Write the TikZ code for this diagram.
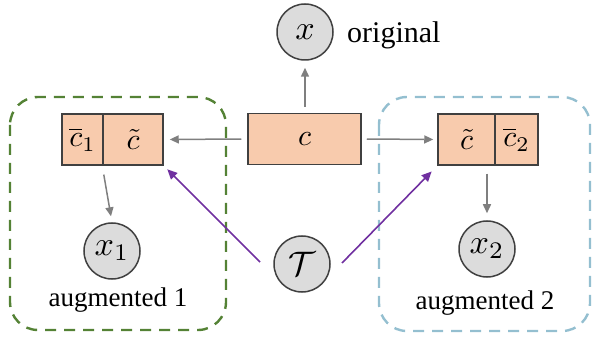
\documentclass[tikz,border=0pt]{standalone}
\usepackage{fontspec}
\setmainfont{Liberation Serif}
\usepackage{graphicx}
\usetikzlibrary{arrows.meta}
\definecolor{peach}{HTML}{F8CBAD}
\definecolor{cfill}{HTML}{DCDCDC}
\definecolor{edge}{HTML}{404040}
\definecolor{garrow}{HTML}{7F7F7F}
\definecolor{grn}{HTML}{548235}
\definecolor{blu}{HTML}{94BFD0}
\definecolor{purp}{HTML}{7030A0}
\newcommand{\boxmath}[1]{\scalebox{3.0}{$#1$}}
\newcommand{\varmath}[1]{\scalebox{3.4}{$#1$}}
\begin{document}
\begin{tikzpicture}[x=1pt,y=-1pt,
  cell/.style={draw=edge,fill=peach,line width=1.5pt,minimum height=51pt,inner sep=0pt},
  var/.style={circle,draw=edge,fill=cfill,line width=1.5pt,minimum size=56pt,inner sep=0pt},
  lbl/.style={font=\fontsize{27}{27}\selectfont,inner sep=0pt},
  garr/.style={draw=garrow,line width=1.5pt,-{Triangle[length=9pt,width=8pt]}},
  parr/.style={draw=purp,line width=1.6pt,-{Triangle[length=10pt,width=9pt]}},
  grp/.style={dashed,line width=2.4pt,rounded corners=28pt,dash pattern=on 11pt off 8pt}]
\useasboundingbox (0,0) rectangle (592,339);
% group boxes
\draw[grp,draw=grn] (10,97) rectangle (226,330);
\draw[grp,draw=blu] (379,97) rectangle (590,331);
% central code
\node[cell,minimum width=113pt] (c) at (304.5,139) {\boxmath{c}};
% left split box
\node[cell,minimum width=41pt] (lbar) at (82.5,139.5) {\boxmath{\overline{c}_1}};
\node[cell,minimum width=60pt] (ltil) at (133,139.5) {\boxmath{\tilde{c}}};
% right split box
\node[cell,minimum width=57pt] (rtil) at (466.5,139.5) {\boxmath{\tilde{c}}};
\node[cell,minimum width=43pt] (rbar) at (516.5,139.5) {\boxmath{\overline{c}_2}};
% variables
\node[var] (x) at (305,32) {\varmath{x}};
\node[lbl,anchor=west,font=\fontsize{30}{30}\selectfont] (orig) at (347,35) {original};
\node[var] (x1) at (112,251) {\varmath{x_1}};
\node[var] (x2) at (487,249) {\varmath{x_2}};
\node[var] (T) at (302,264) {\varmath{\mathcal{T}}};
\node[lbl] (aug1) at (118,300) {augmented 1};
\node[lbl] (aug2) at (485,303) {augmented 2};
% gray arrows
\draw[garr,shorten <=6pt,shorten >=7pt] (c.north -| x) -- (x.south);
\draw[garr,shorten <=6pt,shorten >=6pt] (c.west) -- (ltil.east);
\draw[garr,shorten <=5pt,shorten >=4pt] (c.east) -- (rtil.west);
\draw[garr,shorten <=9pt,shorten >=6pt] (ltil.south west) -- (x1.north);
\draw[garr,shorten <=8pt,shorten >=7pt] (rtil.south east -| x2) -- (x2.north);
% purple arrows
\coordinate (pl) at (260,262);
\coordinate (pr) at (342,263);
\draw[parr,shorten >=5pt] (pl) -- (ltil.south east);
\draw[parr,shorten >=8pt] (pr) -- (rtil.south west);
\end{tikzpicture}
\end{document}
